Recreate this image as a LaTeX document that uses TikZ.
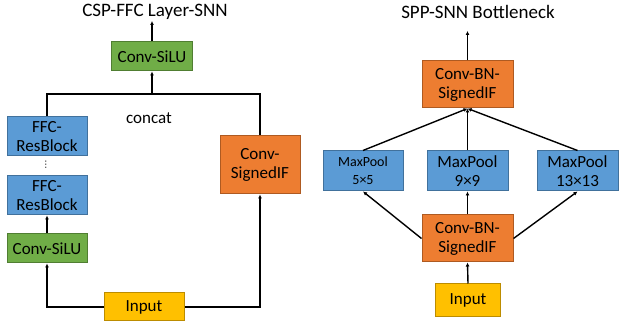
\documentclass[tikz,border=0pt]{standalone}
\usepackage{fontspec}
\setmainfont{Carlito}
\newfontfamily\symfont{DejaVu Sans}
\usetikzlibrary{arrows.meta}
\definecolor{gfill}{HTML}{70AD47}\definecolor{gline}{HTML}{507E32}
\definecolor{bfill}{HTML}{5B9BD5}\definecolor{bline}{HTML}{41719C}
\definecolor{ofill}{HTML}{ED7D31}\definecolor{oline}{HTML}{AE5A21}
\definecolor{yfill}{HTML}{FFC000}\definecolor{yline}{HTML}{BC8C00}
\tikzset{
  blk/.style={draw, line width=1pt, inner sep=0pt, align=center,
    font=\fontsize{17}{19}\selectfont},
  green/.style={blk, fill=gfill, draw=gline},
  blue/.style={blk, fill=bfill, draw=bline},
  orange/.style={blk, fill=ofill, draw=oline},
  yellow/.style={blk, fill=yfill, draw=yline},
  wire/.style={line width=1.4pt},
  arr/.style={wire, -{Latex[length=4pt,width=4pt]}},
  title/.style={font=\fontsize{19}{22}\selectfont}
}
\begin{document}
\begin{tikzpicture}[x=1pt,y=-1pt]
\useasboundingbox (0,0) rectangle (619,328);
% ---------- CSP-FFC Layer-SNN ----------
\node[title] (t1) at (155,12) {CSP-FFC Layer-SNN};
\node[green, minimum width=81pt, minimum height=29pt] (cs) at (152,56.5) {Conv-SiLU};
\coordinate (out1) at (152,21);
\node[blue, minimum width=80pt, minimum height=39pt] (ffc1) at (47,136.5) {FFC-\\ResBlock};
\node[blue, minimum width=80pt, minimum height=39pt] (ffc2) at (47,195.5) {FFC-\\ResBlock};
\node[inner sep=0pt] (dots) at (46,165) {\symfont\fontsize{9}{9}\selectfont ⋮};
\node[green, minimum width=80pt, minimum height=29pt] (cs2) at (47,248.5) {Conv-SiLU};
\node[yellow, minimum width=80pt, minimum height=28pt] (in1) at (144,307) {Input};
\node[orange, minimum width=80pt, minimum height=58pt] (csif) at (260,165) {Conv-\\SignedIF};
\node[font=\fontsize{17}{20}\selectfont] (concat) at (149,118) {concat};
\coordinate (j) at (152,94);
\draw[arr] (cs.north) -- (out1);
\draw[wire] (ffc1.north) |- (j) -| (csif.north);
\draw[arr] (j) -- (cs.south);
\draw[arr] (cs2.north) -- (ffc2.south);
\draw[arr] (in1.west) -| (cs2.south);
\draw[arr] (in1.east) -| (csif.south);
% ---------- SPP-SNN Bottleneck ----------
\node[title] (t2) at (478,12) {SPP-SNN Bottleneck};
\node[orange, minimum width=91pt, minimum height=47pt] (cbt) at (467.5,84.5) {Conv-BN-\\SignedIF};
\coordinate (out2) at (467.5,31);
\node[blue, minimum width=80pt, minimum height=40pt, font=\fontsize{14}{18}\selectfont] (mp5) at (363,171) {MaxPool\\5×5};
\node[blue, minimum width=81pt, minimum height=40pt] (mp9) at (467.5,171) {MaxPool\\9×9};
\node[blue, minimum width=81pt, minimum height=40pt] (mp13) at (577.5,171) {MaxPool\\13×13};
\node[orange, minimum width=91pt, minimum height=47pt] (cbb) at (467.5,238.5) {Conv-BN-\\SignedIF};
\node[yellow, minimum width=65pt, minimum height=33pt] (in2) at (468,300.5) {Input};
\draw[arr] (cbt.north) -- (out2);
\draw[arr] (mp5.north) -- (cbt.south);
\draw[arr] (mp9.north) -- (cbt.south);
\draw[arr] (mp13.north) -- (cbt.south);
\draw[arr] (cbb.west) -- (mp5.south);
\draw[arr] (cbb.north) -- (mp9.south);
\draw[arr] (cbb.east) -- (mp13.south);
\draw[arr] (in2.north) -- (cbb.south);
\end{tikzpicture}
\end{document}
